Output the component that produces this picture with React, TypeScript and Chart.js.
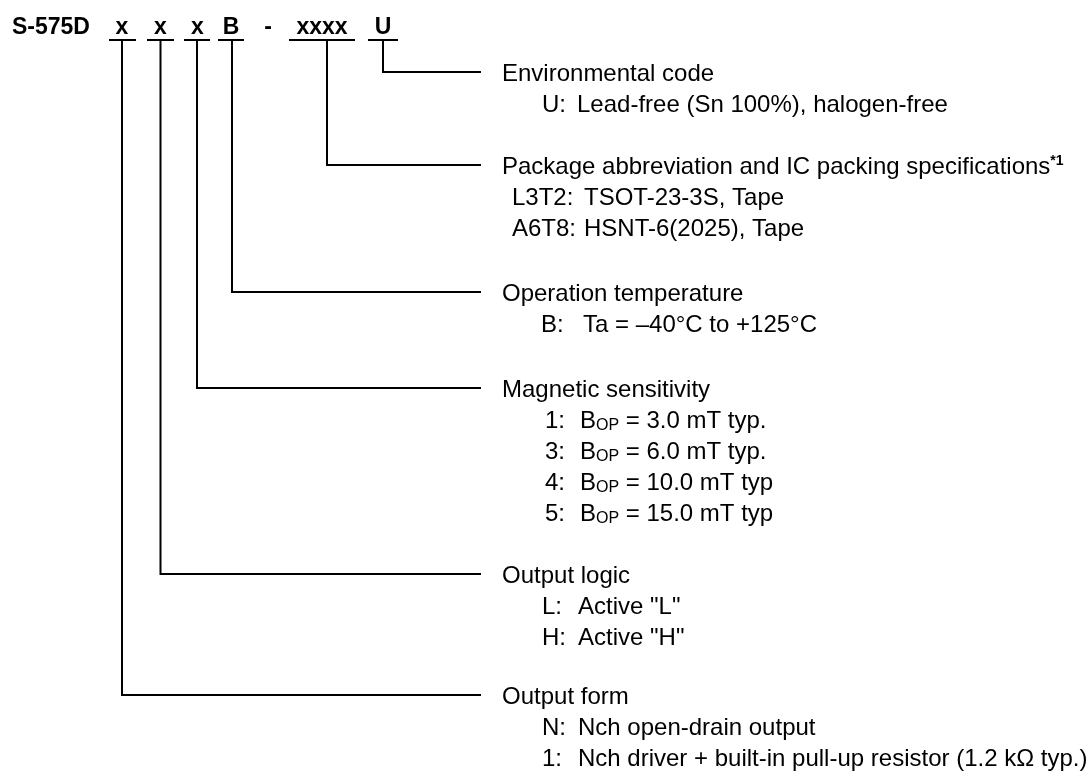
import React, { useEffect, useRef } from 'react';
import { Chart, registerables } from 'chart.js';

Chart.register(...registerables);

const W = 1092;
const H = 773;

// ---- content ----
const partPrefix = 'S-575D';
const codeChars = ['x', 'x', 'x', 'B', '-', 'xxxx', 'U'];

const groupTitles = [
  'Environmental code',
  'Package abbreviation and IC packing specifications^{*1}',
  'Operation temperature',
  'Magnetic sensitivity',
  'Output logic',
  'Output form',
];
const groupItemCodes = [
  ['U:'],
  ['L3T2:', 'A6T8:'],
  ['B:'],
  ['1:', '3:', '4:', '5:'],
  ['L:', 'H:'],
  ['N:', '1:'],
];
const groupItemTexts = [
  ['Lead-free (Sn 100%), halogen-free'],
  ['TSOT-23-3S, Tape', 'HSNT-6(2025), Tape'],
  ['Ta = \u201340\u00B0C to +125\u00B0C'],
  ['B_{OP} = 3.0 mT typ.', 'B_{OP} = 6.0 mT typ.', 'B_{OP} = 10.0 mT typ', 'B_{OP} = 15.0 mT typ'],
  ['Active "L"', 'Active "H"'],
  ['Nch open-drain output', 'Nch driver + built-in pull-up resistor (1.2 k\u03A9 typ.)'],
];
// which header field (index in codeChars) feeds each group
const groupField = [6, 5, 3, 2, 1, 0];

// ---- layout (positions / sizes, kept apart from content) ----
const codeCharX = [122, 160.5, 197.5, 231, 268, 322, 383];
const underlineStart = [110, 148, 185, 219, null, 290, 369];
const underlineEnd = [135, 173, 209, 243, null, 354, 397];
const stemX = [122, 160.5, 197, 232, null, 327, 383];
const underlineY = 40;
const headerBaseline = 34;
const connectorEndX = 480;
const titleX = 502;
const groupTitleY = [72, 165, 292, 388, 574, 695];
const rowPitch = 31.2;
const groupCodeX = [542, 512, 541, 545, 542, 542];
const groupValueX = [577, 584, 583, 580, 578, 578];
const bodySize = 24;
const headerSize = 23;
const FONT = '"Liberation Sans", Arial, "Helvetica", sans-serif';

function drawRich(ctx: CanvasRenderingContext2D, text: string, px: number, py: number, size: number) {
  const re = /([_^])\{([^}]*)\}/g;
  const parts: { t: string; k: string }[] = [];
  let last = 0;
  let m: RegExpExecArray | null;
  while ((m = re.exec(text))) {
    if (m.index > last) parts.push({ t: text.slice(last, m.index), k: '' });
    parts.push({ t: m[2], k: m[1] });
    last = m.index + m[0].length;
  }
  if (last < text.length) parts.push({ t: text.slice(last), k: '' });
  let cx = px;
  for (const p of parts) {
    let dy = 0;
    if (p.k === '_') {
      ctx.font = `${Math.round(size * 0.66)}px ${FONT}`;
      dy = 2;
    } else if (p.k === '^') {
      ctx.font = `bold ${Math.round(size * 0.58)}px ${FONT}`;
      dy = -9;
    } else {
      ctx.font = `${size}px ${FONT}`;
    }
    ctx.fillText(p.t, cx, py + dy);
    cx += ctx.measureText(p.t).width;
  }
}

const textPlugin = {
  id: 'codeText',
  afterDatasetsDraw(chart: any) {
    const { ctx, scales } = chart;
    const sx = (v: number) => scales.x.getPixelForValue(v);
    const sy = (v: number) => scales.y.getPixelForValue(v);
    ctx.save();
    ctx.fillStyle = '#000';
    ctx.textBaseline = 'alphabetic';
    // header
    ctx.font = `bold ${headerSize}px ${FONT}`;
    ctx.textAlign = 'left';
    ctx.fillText(partPrefix, sx(12), sy(headerBaseline));
    ctx.textAlign = 'center';
    codeChars.forEach((c, i) => ctx.fillText(c, sx(codeCharX[i]), sy(headerBaseline)));
    // groups
    ctx.textAlign = 'left';
    const capHalf = bodySize * 0.358;
    groupTitles.forEach((title, g) => {
      const y0 = groupTitleY[g];
      drawRich(ctx, title, sx(titleX), sy(y0 + capHalf), bodySize);
      groupItemCodes[g].forEach((code, k) => {
        const yy = y0 + rowPitch * (k + 1) + capHalf;
        ctx.font = `${bodySize}px ${FONT}`;
        ctx.fillText(code, sx(groupCodeX[g]), sy(yy));
        drawRich(ctx, groupItemTexts[g][k], sx(groupValueX[g]), sy(yy), bodySize);
      });
    });
    ctx.restore();
  },
};

export default function App() {
  const ref = useRef<HTMLCanvasElement | null>(null);
  useEffect(() => {
    if (!ref.current) return;
    const lineStyle = {
      borderColor: '#000',
      backgroundColor: '#000',
      borderWidth: 2,
      pointRadius: 0,
      showLine: true,
      fill: false,
      tension: 0,
      clip: false as any,
      borderJoinStyle: 'miter' as const,
      borderCapStyle: 'square' as const,
    };
    const datasets: any[] = [];
    codeChars.forEach((_, i) => {
      const a = underlineStart[i];
      const b = underlineEnd[i];
      if (a == null || b == null) return;
      datasets.push({ ...lineStyle, data: [{ x: a, y: underlineY }, { x: b, y: underlineY }] });
    });
    groupField.forEach((f, g) => {
      const x = stemX[f] as number;
      const y = groupTitleY[g];
      datasets.push({
        ...lineStyle,
        data: [
          { x, y: underlineY },
          { x, y },
          { x: connectorEndX, y },
        ],
      });
    });
    const chart = new Chart(ref.current, {
      type: 'scatter',
      data: { datasets },
      options: {
        responsive: false,
        animation: false,
        events: [],
        layout: { padding: 0 },
        plugins: { legend: { display: false }, tooltip: { enabled: false } },
        scales: {
          x: { type: 'linear', min: 0, max: W, display: false },
          y: { type: 'linear', min: 0, max: H, reverse: true, display: false },
        },
      },
      plugins: [textPlugin],
    });
    return () => chart.destroy();
  }, []);
  return (
    <div style={{ position: 'fixed', left: 0, top: 0, width: W, height: H, background: '#fff' }}>
      <canvas ref={ref} width={W} height={H} style={{ display: 'block' }} />
    </div>
  );
}
